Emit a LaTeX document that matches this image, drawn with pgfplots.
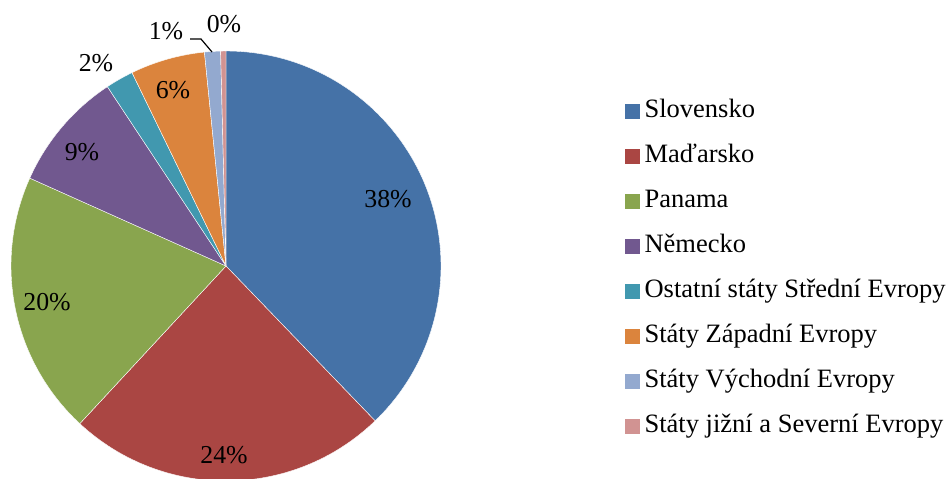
\documentclass[border=0pt]{standalone}
\usepackage{pgfplots}
\pgfplotsset{compat=1.18}
\usepackage{fontspec}
\setmainfont{Liberation Serif}
\definecolor{c1}{HTML}{4572A7}
\definecolor{c2}{HTML}{AA4643}
\definecolor{c3}{HTML}{89A54E}
\definecolor{c4}{HTML}{71588F}
\definecolor{c5}{HTML}{4198AF}
\definecolor{c6}{HTML}{DB843D}
\definecolor{c7}{HTML}{93A9CF}
\definecolor{c8}{HTML}{D19392}
\begin{document}
\begin{tikzpicture}
\fontsize{12.9}{15}\selectfont
% shares in percent (clockwise from top)
\def\vA{37.8}\def\vB{24.1}\def\vC{19.8}\def\vD{9.0}
\def\vE{2.1}\def\vF{5.6}\def\vG{1.2}\def\vH{0.4}
\pgfmathsetmacro\aA{90}
\pgfmathsetmacro\aB{\aA-3.6*\vA}
\pgfmathsetmacro\aC{\aB-3.6*\vB}
\pgfmathsetmacro\aD{\aC-3.6*\vC}
\pgfmathsetmacro\aE{\aD-3.6*\vD}
\pgfmathsetmacro\aF{\aE-3.6*\vE}
\pgfmathsetmacro\aG{\aF-3.6*\vF}
\pgfmathsetmacro\aH{\aG-3.6*\vG}
\pgfmathsetmacro\aI{\aH-3.6*\vH}
\def\R{107.5pt}
\begin{axis}[
  x=0.5pt, y=0.5pt,
  xmin=0, xmax=950, ymin=0, ymax=478,
  hide axis,
  legend style={at={(625/950,1-99/478)}, anchor=north west, draw=none, fill=none,
    inner sep=0pt, row sep=10.5pt, column sep=2.2pt,
    font=\fontsize{13.25}{15}\selectfont,
    nodes={inner sep=0pt, text height=9pt, text depth=3pt}},
  legend cell align=left,
  legend image code/.code={\fill[#1] (0pt,-3.5pt) rectangle (7pt,3.5pt);},
]
\coordinate (ll) at (axis cs:0,0);
\coordinate (ur) at (axis cs:950,478);
\fill[c1, draw=white, line width=0.2pt] (axis cs:226,212) -- ++(\aA:\R) arc[start angle=\aA, end angle=\aB, radius=\R] -- cycle;
\fill[c2, draw=white, line width=0.2pt] (axis cs:226,212) -- ++(\aB:\R) arc[start angle=\aB, end angle=\aC, radius=\R] -- cycle;
\fill[c3, draw=white, line width=0.2pt] (axis cs:226,212) -- ++(\aC:\R) arc[start angle=\aC, end angle=\aD, radius=\R] -- cycle;
\fill[c4, draw=white, line width=0.2pt] (axis cs:226,212) -- ++(\aD:\R) arc[start angle=\aD, end angle=\aE, radius=\R] -- cycle;
\fill[c5, draw=white, line width=0.2pt] (axis cs:226,212) -- ++(\aE:\R) arc[start angle=\aE, end angle=\aF, radius=\R] -- cycle;
\fill[c6, draw=white, line width=0.2pt] (axis cs:226,212) -- ++(\aF:\R) arc[start angle=\aF, end angle=\aG, radius=\R] -- cycle;
\fill[c7, draw=white, line width=0.2pt] (axis cs:226,212) -- ++(\aG:\R) arc[start angle=\aG, end angle=\aH, radius=\R] -- cycle;
\fill[c8, draw=white, line width=0.2pt] (axis cs:226,212) -- ++(\aH:\R) arc[start angle=\aH, end angle=\aI, radius=\R] -- cycle;
\node at (axis cs:388,279) {38\%};
\node at (axis cs:224,23) {24\%};
\node at (axis cs:47,176) {20\%};
\node at (axis cs:82,326) {9\%};
\node at (axis cs:96,415) {2\%};
\node at (axis cs:173,388) {6\%};
\node at (axis cs:166,447) {1\%};
\node at (axis cs:224,454) {0\%};
\draw[black, line width=0.6pt] (axis cs:190,439) -- (axis cs:201,439) -- (axis cs:212,426);
\addlegendimage{c1}\addlegendentry{Slovensko}
\addlegendimage{c2}\addlegendentry{Maďarsko}
\addlegendimage{c3}\addlegendentry{Panama}
\addlegendimage{c4}\addlegendentry{Německo}
\addlegendimage{c5}\addlegendentry{Ostatní státy Střední Evropy}
\addlegendimage{c6}\addlegendentry{Státy Západní Evropy}
\addlegendimage{c7}\addlegendentry{Státy Východní Evropy}
\addlegendimage{c8}\addlegendentry{Státy jižní a Severní Evropy}
\end{axis}
\pgfresetboundingbox
\useasboundingbox (ll) rectangle (ur);
\end{tikzpicture}
\end{document}
